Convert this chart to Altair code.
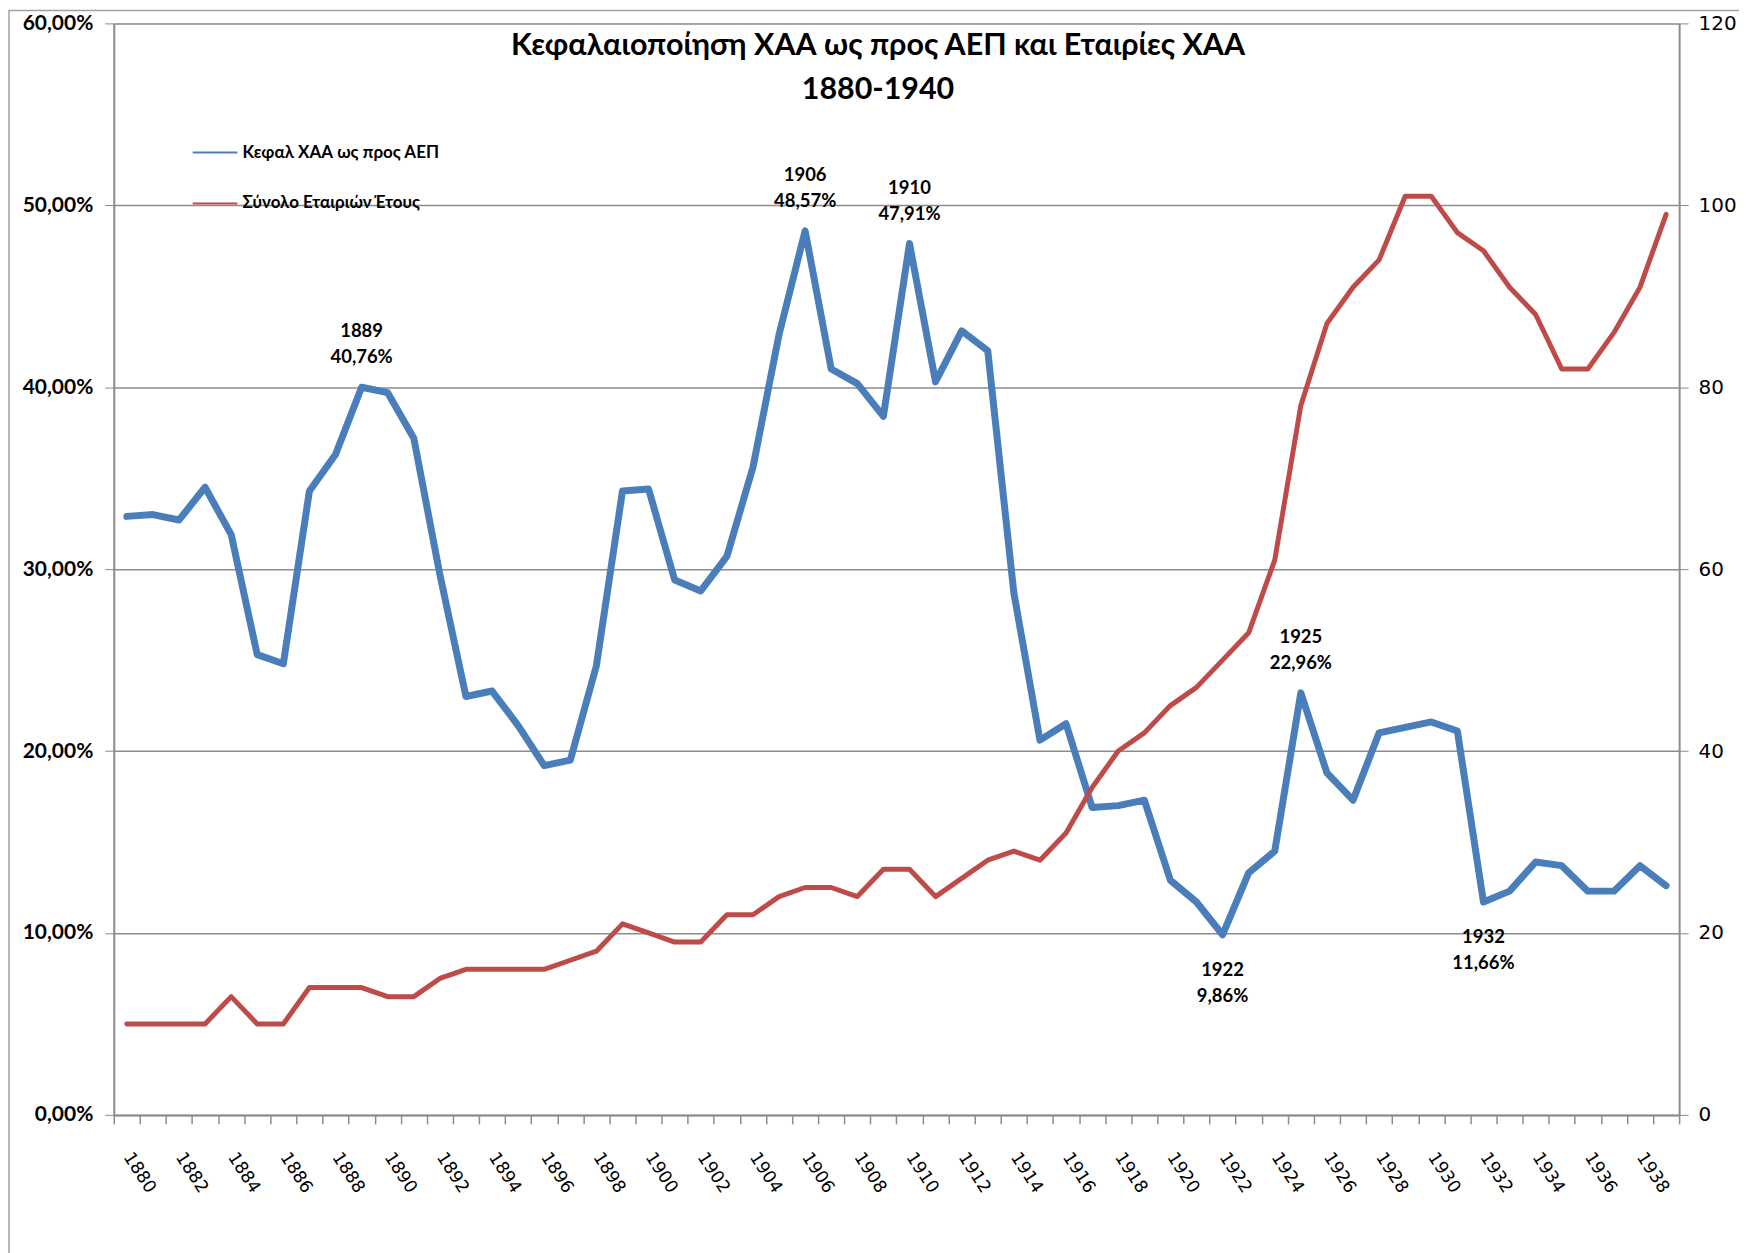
import altair as alt
import pandas as pd

years = list(range(1880, 1940))
cap_pct = [32.9, 33.0, 32.7, 34.5, 31.9, 25.3, 24.8, 34.3, 36.3, 40.0,
           39.7, 37.2, 29.7, 23.0, 23.3, 21.4, 19.2, 19.5, 24.7, 34.3,
           34.4, 29.4, 28.8, 30.7, 35.6, 42.9, 48.6, 41.0, 40.2, 38.4,
           47.9, 40.3, 43.1, 42.0, 28.7, 20.6, 21.5, 16.9, 17.0, 17.3,
           12.9, 11.7, 9.9, 13.3, 14.5, 23.2, 18.8, 17.3, 21.0, 21.3,
           21.6, 21.1, 11.7, 12.3, 13.9, 13.7, 12.3, 12.3, 13.7, 12.6]
firms = [10, 10, 10, 10, 13, 10, 10, 14, 14, 14,
         13, 13, 15, 16, 16, 16, 16, 17, 18, 21,
         20, 19, 19, 22, 22, 24, 25, 25, 24, 27,
         27, 24, 26, 28, 29, 28, 31, 36, 40, 42,
         45, 47, 50, 53, 61, 78, 87, 91, 94, 101,
         101, 97, 95, 91, 88, 82, 82, 86, 91, 99]

ann_above_years = [1889, 1906, 1910, 1925]
ann_above_text = ["1889\n40,76%", "1906\n48,57%", "1910\n47,91%", "1925\n22,96%"]
ann_below_years = [1922, 1932]
ann_below_text = ["1922\n9,86%", "1932\n11,66%"]

series_blue = "Κεφαλ ΧΑΑ ως προς ΑΕΠ"
series_red = "Σύνολο Εταιριών Έτους"
title_line1 = "Κεφαλαιοποίηση ΧΑΑ ως προς ΑΕΠ και Εταιρίες ΧΑΑ"
title_line2 = "1880-1940"

BLUE = "#4A7EBB"
RED = "#BE4B48"
GRID = "#8C8C8C"
FONT = "Lato, Open Sans, sans-serif"
AXFONT = "DejaVu Sans"

df = pd.DataFrame({"year": years, "cap": cap_pct, "firms": firms})
cap_map = dict(zip(years, cap_pct))
df_above = pd.DataFrame({"year": ann_above_years, "cap": [cap_map[y] for y in ann_above_years], "txt": ann_above_text})
df_below = pd.DataFrame({"year": ann_below_years, "cap": [cap_map[y] for y in ann_below_years], "txt": ann_below_text})

W, H = 1569, 1094

xenc = alt.X("year:O", title=None,
             scale=alt.Scale(type="band", paddingInner=0, paddingOuter=0),
             axis=alt.Axis(labelAngle=57, labelExpr="datum.value % 2 == 0 ? datum.label : ''",
                           tickBand="extent", grid=False, domainColor=GRID, tickColor=GRID,
                           tickSize=9, labelFont=AXFONT, labelFontSize=17.5, labelColor="black",
                           labelPadding=30, domainWidth=2, tickWidth=1.5))

color_scale = alt.Scale(domain=[series_blue, series_red], range=[BLUE, RED])

left_y_scale = alt.Scale(domain=[0, 60], nice=False, zero=True)

blue_line = alt.Chart(df).mark_line(strokeWidth=7, strokeJoin="round", strokeCap="round").encode(
    x=xenc,
    y=alt.Y("cap:Q", title=None, scale=left_y_scale,
            axis=alt.Axis(values=[0, 10, 20, 30, 40, 50, 60],
                          labelExpr="replace(format(datum.value,'.2f'),'.',',') + '%'",
                          grid=True, gridColor=GRID, gridWidth=1.5, domainColor=GRID, domainWidth=2,
                          tickColor=GRID, tickSize=9, labelFont=FONT, labelFontWeight="bold",
                          labelFontSize=21, labelColor="black", labelPadding=12)),
    color=alt.Color("s:N", scale=color_scale,
                    legend=alt.Legend(title=None, orient="none", legendX=78, legendY=106,
                                      symbolType="stroke", symbolSize=2000, symbolStrokeWidth=2,
                                      labelFont=FONT, labelFontSize=17, labelFontWeight="bold",
                                      labelColor="black", rowPadding=19, labelOffset=4,
                                      labelLimit=0)),
).transform_calculate(s=f"'{series_blue}'")

ann_up = alt.Chart(df_above).mark_text(font=FONT, fontWeight="bold", fontSize=18.5, baseline="bottom",
                                       dy=-46, lineBreak="\n", lineHeight=26, color="black").encode(
    x=alt.X("year:O"), y=alt.Y("cap:Q", scale=left_y_scale), text="txt:N")

ann_down = alt.Chart(df_below).mark_text(font=FONT, fontWeight="bold", fontSize=18.5, baseline="top",
                                         dy=26, lineBreak="\n", lineHeight=26, color="black").encode(
    x=alt.X("year:O"), y=alt.Y("cap:Q", scale=left_y_scale), text="txt:N")

title1 = alt.Chart(pd.DataFrame({"txt": [title_line1]})).mark_text(
    font=FONT, fontWeight="bold", fontSize=30.5, color="black", baseline="middle", align="center"
).encode(x=alt.value(766), y=alt.value(23), text="txt:N")

title2 = alt.Chart(pd.DataFrame({"txt": [title_line2]})).mark_text(
    font=FONT, fontWeight="bold", fontSize=30.5, color="black", baseline="middle", align="center"
).encode(x=alt.value(766), y=alt.value(67), text="txt:N")

frame = alt.Chart(pd.DataFrame({"k": [0]})).mark_rect(fill=None, stroke="#A0A0A0", strokeWidth=1.5).encode(
    x=alt.value(-105), x2=alt.value(W + 80), y=alt.value(-13), y2=alt.value(H + 300))

left = alt.layer(blue_line, ann_up, ann_down)

red_line = alt.Chart(df).mark_line(strokeWidth=5, strokeJoin="round", strokeCap="round").encode(
    x=xenc,
    y=alt.Y("firms:Q", title=None, scale=alt.Scale(domain=[0, 120], nice=False),
            axis=alt.Axis(orient="right", values=[0, 20, 40, 60, 80, 100, 120], grid=False,
                          domainColor=GRID, domainWidth=2, tickColor=GRID, tickSize=9,
                          labelFont=AXFONT, labelFontSize=20, labelColor="black", labelPadding=10)),
    color=alt.Color("s:N", scale=color_scale),
).transform_calculate(s=f"'{series_red}'")

chart = alt.layer(frame, left, red_line, title1, title2).resolve_scale(y="independent").properties(
    width=W, height=H,
    autosize=alt.AutoSizeParams(type="none"),
    padding={"left": 106, "top": 14, "right": 60, "bottom": 140},
).configure_view(stroke=None).configure(background="white")

chart.save("out.html", embed_options={"renderer": "svg", "actions": False})
